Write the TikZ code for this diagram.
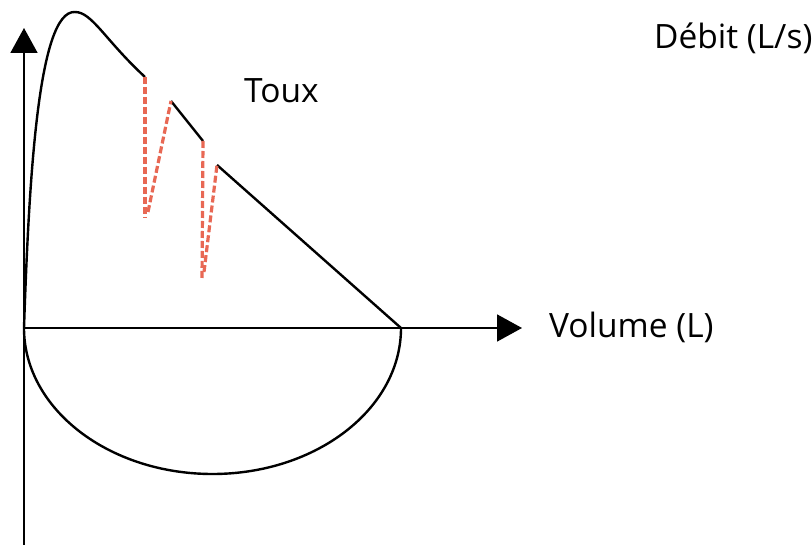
\documentclass[tikz,border=0pt]{standalone}
\usepackage{fontspec}
\setmainfont{Open Sans}
\usetikzlibrary{arrows.meta}
\definecolor{touxred}{RGB}{232,104,84}
\begin{document}
\begin{tikzpicture}[x=1pt, y=-1pt, line width=2.4pt,
  axe/.style={line width=1.7pt, -{Triangle[length=25pt,width=27pt]}},
  toux/.style={touxred, line width=3.2pt, dash pattern=on 7pt off 3pt},
  lbl/.style={font=\fontsize{33.5}{40}\selectfont, inner sep=0pt, anchor=base west}]
\useasboundingbox (0,0) rectangle (812,545);

% axes
\coordinate (O) at (24,328);
\coordinate (ybas) at (24,545);
\coordinate (yhaut) at (24,28);
\coordinate (xfin) at (522,328);
\draw[axe] (ybas) -- (yhaut);
\draw[axe] (O) -- (xfin);

\node[lbl] (debit) at (653,49) {Débit (L/s)};
\node[lbl] (volume) at (548,338) {Volume (L)};
\node[lbl] (toux) at (243,103) {Toux};

% courbe expiratoire avec toux
\coordinate (pic) at (75,12);
\coordinate (a1) at (145,77);  \coordinate (b1) at (145,218);
\coordinate (c1) at (148,212); \coordinate (d1) at (171,101);
\coordinate (a2) at (203,141); \coordinate (b2) at (202,280);
\coordinate (c2) at (204,272); \coordinate (d2) at (217,165);
\coordinate (V) at (401,328);

\draw (O) .. controls (29,180) and (38,10) .. (pic)
  .. controls (92,12) and (105,40) .. (a1);
\draw (d1) -- (a2);
\draw (d2) -- (V);

\foreach \p/\q in {a1/b1, c1/d1, a2/b2, c2/d2}
\draw[toux] (\p) -- (\q);

% courbe inspiratoire
\draw (O) .. controls (24,408.6) and (108.4,474) .. (212.5,474)
  .. controls (316.6,474) and (V|-0,408.6) .. (V);
\end{tikzpicture}
\end{document}
